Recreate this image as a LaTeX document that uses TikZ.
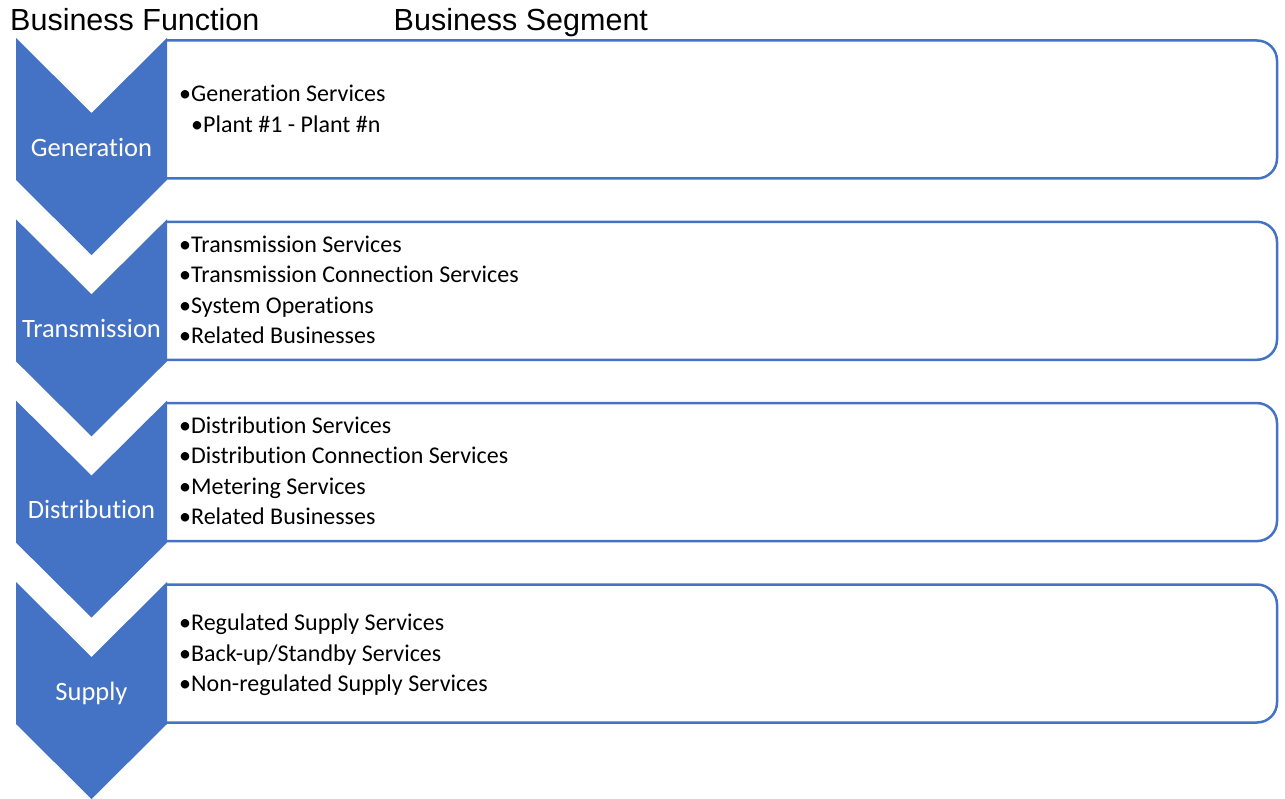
\documentclass[tikz,border=0pt]{standalone}
\usepackage{fontspec}
\setmainfont{Carlito}[RawFeature={-liga}]
\newfontfamily\headfont{Liberation Sans}
\definecolor{offblue}{HTML}{4472C4}
\begin{document}
\begin{tikzpicture}[x=1pt,y=-1pt,
  chev/.style={fill=offblue,draw=none},
  segbox/.style={draw=offblue,line width=2.5pt,fill=white,rounded corners=20pt},
  lbl/.style={anchor=base,text=white,font=\fontsize{26.5}{30}\selectfont,inner sep=0pt},
  item/.style={anchor=base west,font=\fontsize{24}{28}\selectfont,inner sep=0pt},
  head/.style={anchor=base west,font=\headfont\fontsize{30.5}{34}\selectfont,inner sep=0pt}]
\useasboundingbox (0,0) rectangle (1285,799);
% headers
\node[head] (hf) at (10,31) {Business Function};
\node[head] (hs) at (393.5,31) {Business Segment};
% boxes and chevrons
\foreach \i/\t in {1/38,2/219.3,3/400.6,4/582} {
  \draw[segbox] (166,\t+2.5) -- (1277,\t+2.5) -- (1277,\t+140.5) -- (166,\t+140.5);
  \fill[chev] (16,\t) -- (91.5,\t+75) -- (167,\t) -- (167,\t+142) -- (91.5,\t+217) -- (16,\t+142) -- cycle;
}
% chevron labels
\node[lbl] (gen) at (91.5,156.5) {Generation};
\node[lbl] (tra) at (91.5,337.5) {Transmission};
\node[lbl] (dis) at (91.5,518.8) {Distribution};
\node[lbl] (sup) at (91.5,700) {Supply};
% generation items
\node[item] (g1) at (179,102) {•Generation Services};
\node[item] (g2) at (191,133) {•Plant \#1 - Plant \#n};
% transmission items
\node[item] (t1) at (179,252.5) {•Transmission Services};
\node[item] (t2) at (179,283) {•Transmission Connection Services};
\node[item] (t3) at (179,313.5) {•System Operations};
\node[item] (t4) at (179,344) {•Related Businesses};
% distribution items
\node[item] (d1) at (179,433) {•Distribution Services};
\node[item] (d2) at (179,463.5) {•Distribution Connection Services};
\node[item] (d3) at (179,494) {•Metering Services};
\node[item] (d4) at (179,524.5) {•Related Businesses};
% supply items
\node[item] (s1) at (179,630.5) {•Regulated Supply Services};
\node[item] (s2) at (179,661) {•Back-up/Standby Services};
\node[item] (s3) at (179,691.7) {•Non-regulated Supply Services};
\end{tikzpicture}
\end{document}
